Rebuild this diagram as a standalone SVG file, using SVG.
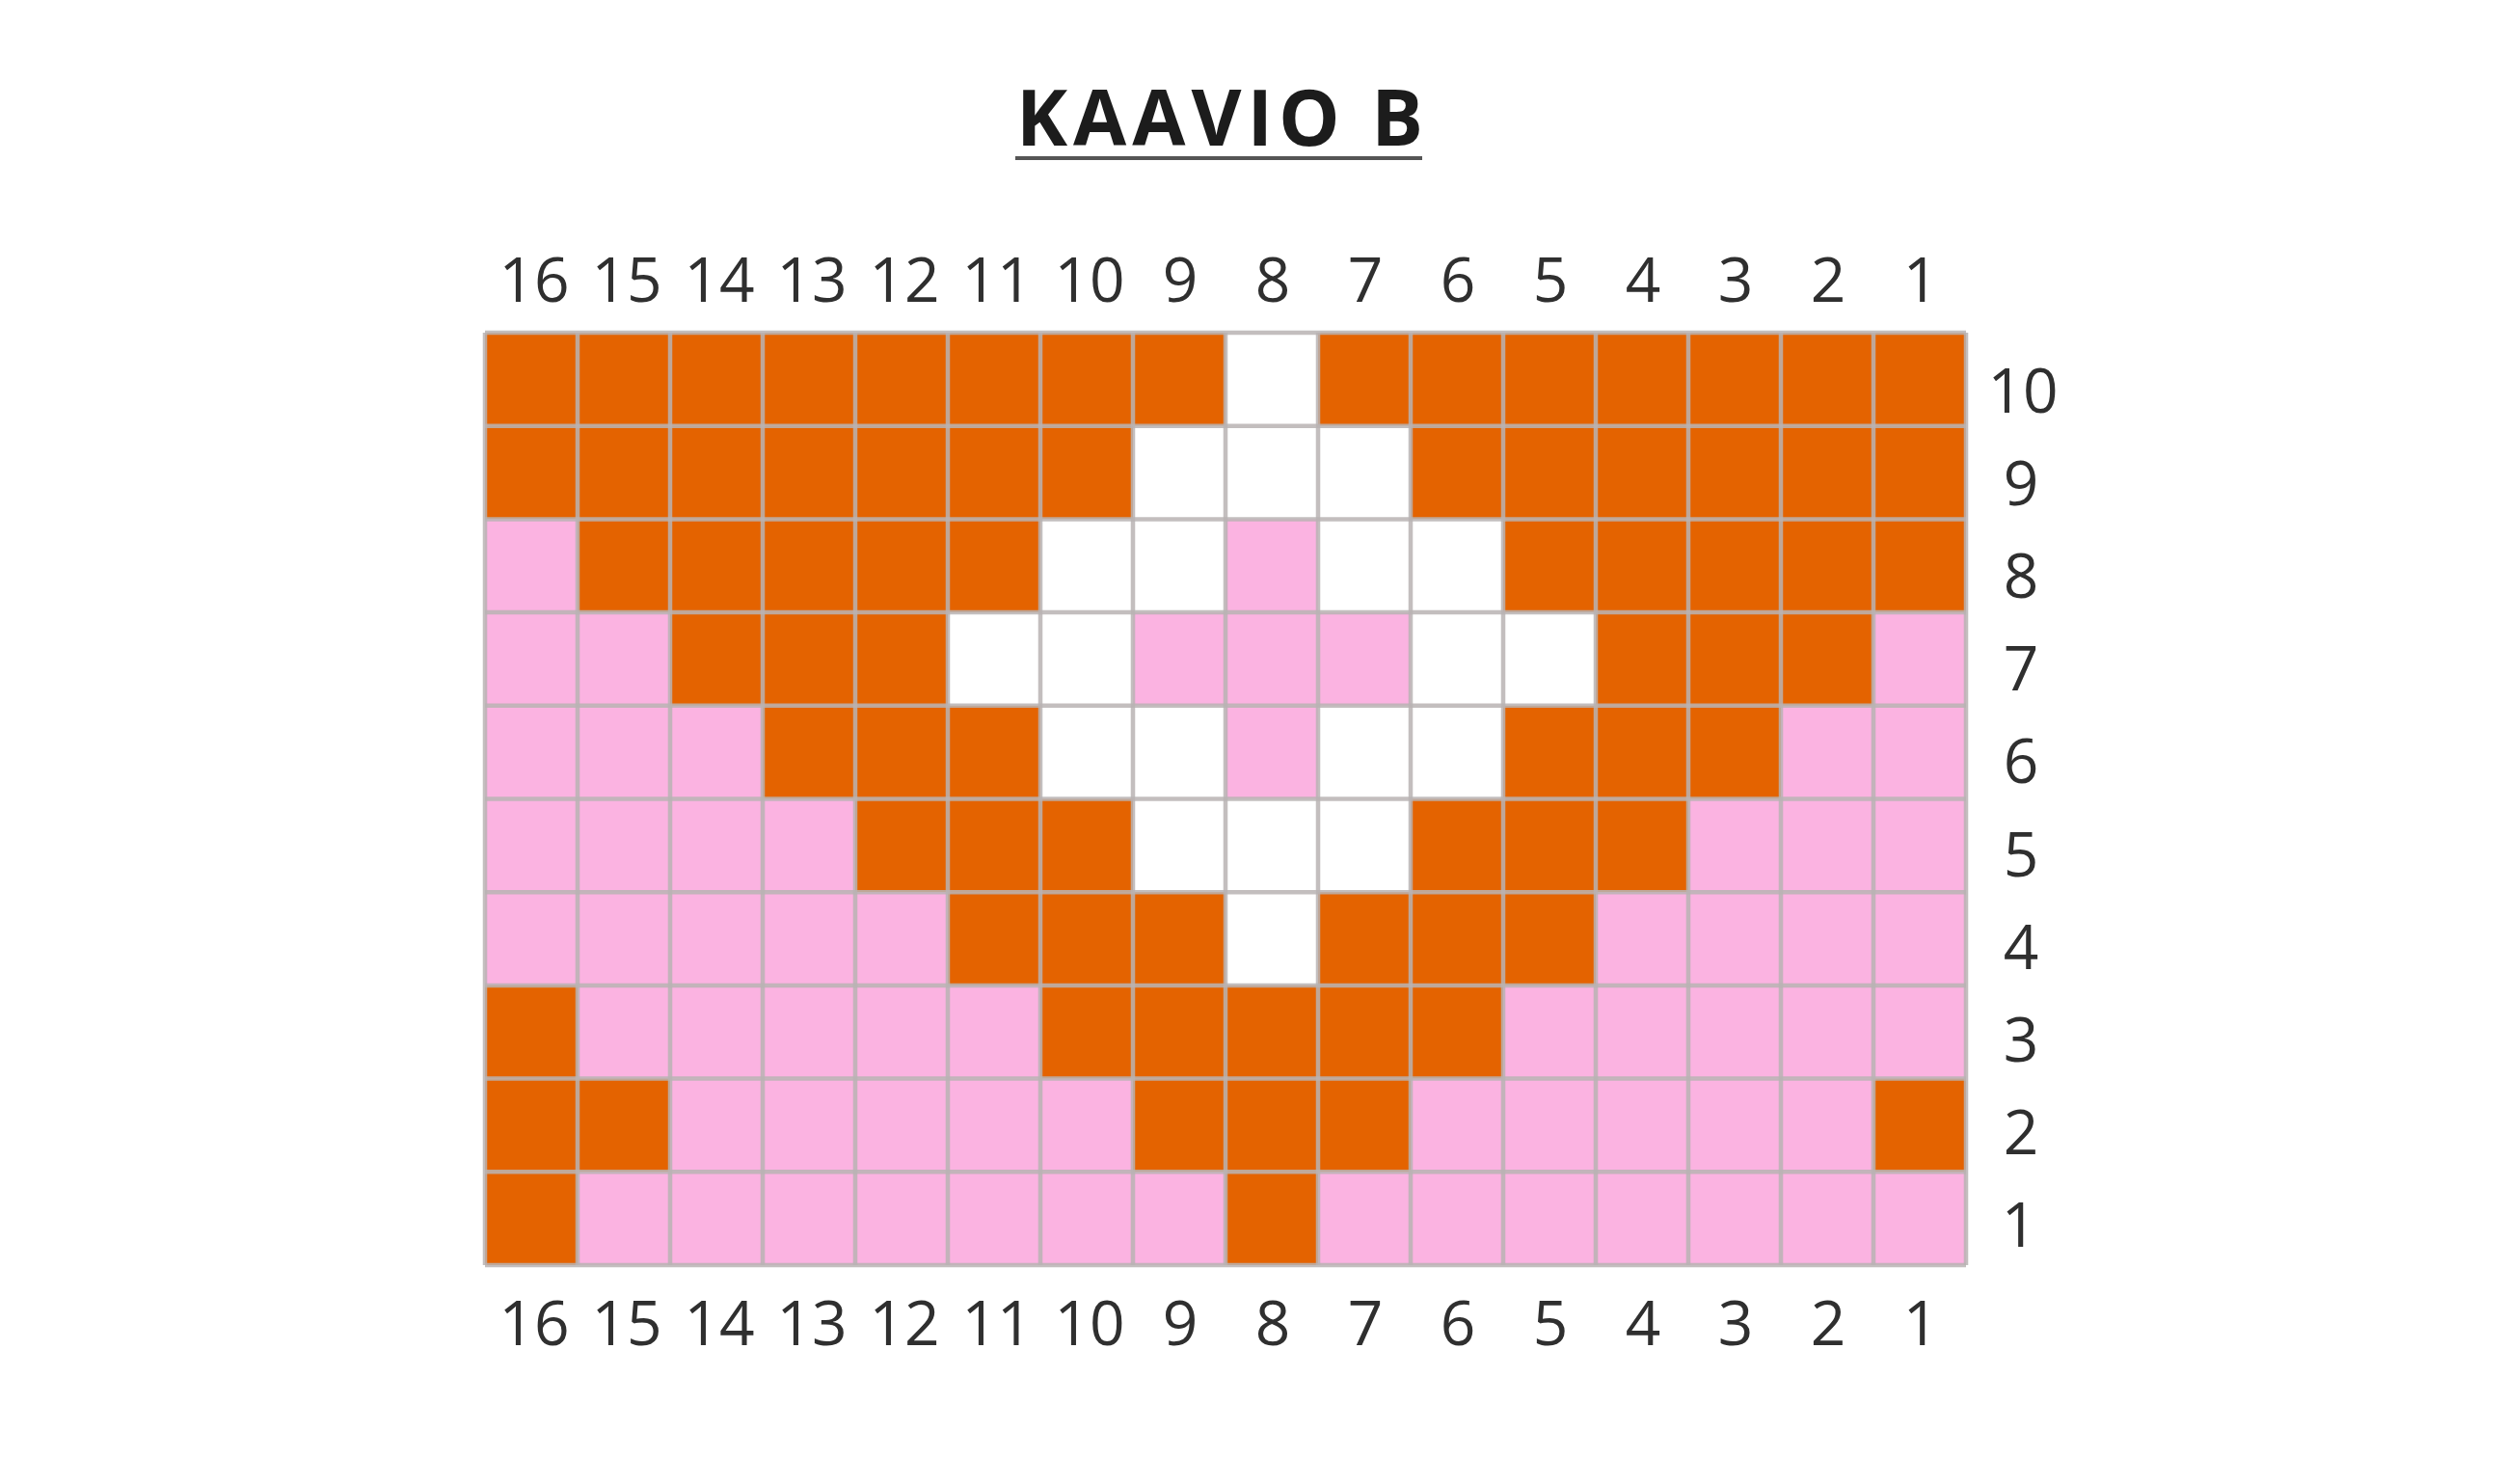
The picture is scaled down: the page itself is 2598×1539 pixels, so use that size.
<svg xmlns="http://www.w3.org/2000/svg" width="2598" height="1539" viewBox="0 0 2598 1539">
<style>
.o{fill:#E46300}
.p{fill:#FBB3E1}
.w{fill:#FFFFFF}
.gl{stroke:#B9B3B3;stroke-width:4.5;stroke-opacity:0.85}
.lbl{font-family:"Open Sans","Liberation Sans",sans-serif;font-size:64px;fill:#2f2f2f;text-anchor:middle}
.title{font-family:"Open Sans","Liberation Sans",sans-serif;font-weight:700;font-size:80px;fill:#1c1c1c;letter-spacing:6px;text-anchor:middle}
</style>
<rect width="2598" height="1539" fill="#FFFFFF"/>
<g id="title">
<text class="title" x="1268" y="151">KAAVIO B</text>
<rect x="1053" y="162" width="422" height="4" fill="#555555"/>
</g>
<g id="cells">
<!-- row 10 -->
<rect class="o" x="503" y="345" width="768" height="96.7"/>
<rect class="w" x="1271" y="345" width="96" height="96.7"/>
<rect class="o" x="1367" y="345" width="672" height="96.7"/>
<!-- row 9 -->
<rect class="o" x="503" y="441.7" width="672" height="96.7"/>
<rect class="w" x="1175" y="441.7" width="288" height="96.7"/>
<rect class="o" x="1463" y="441.7" width="576" height="96.7"/>
<!-- row 8 -->
<rect class="p" x="503" y="538.4" width="96" height="96.7"/>
<rect class="o" x="599" y="538.4" width="480" height="96.7"/>
<rect class="w" x="1079" y="538.4" width="192" height="96.7"/>
<rect class="p" x="1271" y="538.4" width="96" height="96.7"/>
<rect class="w" x="1367" y="538.4" width="192" height="96.7"/>
<rect class="o" x="1559" y="538.4" width="480" height="96.7"/>
<!-- row 7 -->
<rect class="p" x="503" y="635.1" width="192" height="96.7"/>
<rect class="o" x="695" y="635.1" width="288" height="96.7"/>
<rect class="w" x="983" y="635.1" width="192" height="96.7"/>
<rect class="p" x="1175" y="635.1" width="288" height="96.7"/>
<rect class="w" x="1463" y="635.1" width="192" height="96.7"/>
<rect class="o" x="1655" y="635.1" width="288" height="96.7"/>
<rect class="p" x="1943" y="635.1" width="96" height="96.7"/>
<!-- row 6 -->
<rect class="p" x="503" y="731.8" width="288" height="96.7"/>
<rect class="o" x="791" y="731.8" width="288" height="96.7"/>
<rect class="w" x="1079" y="731.8" width="192" height="96.7"/>
<rect class="p" x="1271" y="731.8" width="96" height="96.7"/>
<rect class="w" x="1367" y="731.8" width="192" height="96.7"/>
<rect class="o" x="1559" y="731.8" width="288" height="96.7"/>
<rect class="p" x="1847" y="731.8" width="192" height="96.7"/>
<!-- row 5 -->
<rect class="p" x="503" y="828.5" width="384" height="96.7"/>
<rect class="o" x="887" y="828.5" width="288" height="96.7"/>
<rect class="w" x="1175" y="828.5" width="288" height="96.7"/>
<rect class="o" x="1463" y="828.5" width="288" height="96.7"/>
<rect class="p" x="1751" y="828.5" width="288" height="96.7"/>
<!-- row 4 -->
<rect class="p" x="503" y="925.2" width="480" height="96.7"/>
<rect class="o" x="983" y="925.2" width="288" height="96.7"/>
<rect class="w" x="1271" y="925.2" width="96" height="96.7"/>
<rect class="o" x="1367" y="925.2" width="288" height="96.7"/>
<rect class="p" x="1655" y="925.2" width="384" height="96.7"/>
<!-- row 3 -->
<rect class="o" x="503" y="1021.9" width="96" height="96.7"/>
<rect class="p" x="599" y="1021.9" width="480" height="96.7"/>
<rect class="o" x="1079" y="1021.9" width="480" height="96.7"/>
<rect class="p" x="1559" y="1021.9" width="480" height="96.7"/>
<!-- row 2 -->
<rect class="o" x="503" y="1118.6" width="192" height="96.7"/>
<rect class="p" x="695" y="1118.6" width="480" height="96.7"/>
<rect class="o" x="1175" y="1118.6" width="288" height="96.7"/>
<rect class="p" x="1463" y="1118.6" width="480" height="96.7"/>
<rect class="o" x="1943" y="1118.6" width="96" height="96.7"/>
<!-- row 1 -->
<rect class="o" x="503" y="1215.3" width="96" height="96.7"/>
<rect class="p" x="599" y="1215.3" width="672" height="96.7"/>
<rect class="o" x="1271" y="1215.3" width="96" height="96.7"/>
<rect class="p" x="1367" y="1215.3" width="672" height="96.7"/>
</g>
<g id="gridlines">
<line class="gl" x1="503" y1="345" x2="503" y2="1312"/>
<line class="gl" x1="599" y1="345" x2="599" y2="1312"/>
<line class="gl" x1="695" y1="345" x2="695" y2="1312"/>
<line class="gl" x1="791" y1="345" x2="791" y2="1312"/>
<line class="gl" x1="887" y1="345" x2="887" y2="1312"/>
<line class="gl" x1="983" y1="345" x2="983" y2="1312"/>
<line class="gl" x1="1079" y1="345" x2="1079" y2="1312"/>
<line class="gl" x1="1175" y1="345" x2="1175" y2="1312"/>
<line class="gl" x1="1271" y1="345" x2="1271" y2="1312"/>
<line class="gl" x1="1367" y1="345" x2="1367" y2="1312"/>
<line class="gl" x1="1463" y1="345" x2="1463" y2="1312"/>
<line class="gl" x1="1559" y1="345" x2="1559" y2="1312"/>
<line class="gl" x1="1655" y1="345" x2="1655" y2="1312"/>
<line class="gl" x1="1751" y1="345" x2="1751" y2="1312"/>
<line class="gl" x1="1847" y1="345" x2="1847" y2="1312"/>
<line class="gl" x1="1943" y1="345" x2="1943" y2="1312"/>
<line class="gl" x1="2039" y1="345" x2="2039" y2="1312"/>
<line class="gl" x1="503" y1="345" x2="2039" y2="345"/>
<line class="gl" x1="503" y1="441.7" x2="2039" y2="441.7"/>
<line class="gl" x1="503" y1="538.4" x2="2039" y2="538.4"/>
<line class="gl" x1="503" y1="635.1" x2="2039" y2="635.1"/>
<line class="gl" x1="503" y1="731.8" x2="2039" y2="731.8"/>
<line class="gl" x1="503" y1="828.5" x2="2039" y2="828.5"/>
<line class="gl" x1="503" y1="925.2" x2="2039" y2="925.2"/>
<line class="gl" x1="503" y1="1021.9" x2="2039" y2="1021.9"/>
<line class="gl" x1="503" y1="1118.6" x2="2039" y2="1118.6"/>
<line class="gl" x1="503" y1="1215.3" x2="2039" y2="1215.3"/>
<line class="gl" x1="503" y1="1312" x2="2039" y2="1312"/>
</g>
<g id="top-labels">
<text class="lbl" x="554" y="313">16</text>
<text class="lbl" x="650" y="313">15</text>
<text class="lbl" x="746" y="313">14</text>
<text class="lbl" x="842" y="313">13</text>
<text class="lbl" x="938" y="313">12</text>
<text class="lbl" x="1034" y="313">11</text>
<text class="lbl" x="1130" y="313">10</text>
<text class="lbl" x="1224" y="313">9</text>
<text class="lbl" x="1320" y="313">8</text>
<text class="lbl" x="1416" y="313">7</text>
<text class="lbl" x="1512" y="313">6</text>
<text class="lbl" x="1608" y="313">5</text>
<text class="lbl" x="1704" y="313">4</text>
<text class="lbl" x="1800" y="313">3</text>
<text class="lbl" x="1896" y="313">2</text>
<text class="lbl" x="1992" y="313">1</text>
</g>
<g id="bottom-labels">
<text class="lbl" x="554" y="1395">16</text>
<text class="lbl" x="650" y="1395">15</text>
<text class="lbl" x="746" y="1395">14</text>
<text class="lbl" x="842" y="1395">13</text>
<text class="lbl" x="938" y="1395">12</text>
<text class="lbl" x="1034" y="1395">11</text>
<text class="lbl" x="1130" y="1395">10</text>
<text class="lbl" x="1224" y="1395">9</text>
<text class="lbl" x="1320" y="1395">8</text>
<text class="lbl" x="1416" y="1395">7</text>
<text class="lbl" x="1512" y="1395">6</text>
<text class="lbl" x="1608" y="1395">5</text>
<text class="lbl" x="1704" y="1395">4</text>
<text class="lbl" x="1800" y="1395">3</text>
<text class="lbl" x="1896" y="1395">2</text>
<text class="lbl" x="1992" y="1395">1</text>
</g>
<g id="row-labels">
<text class="lbl" x="2098" y="428">10</text>
<text class="lbl" x="2096" y="524">9</text>
<text class="lbl" x="2096" y="620">8</text>
<text class="lbl" x="2096" y="716">7</text>
<text class="lbl" x="2096" y="812">6</text>
<text class="lbl" x="2096" y="909">5</text>
<text class="lbl" x="2096" y="1005">4</text>
<text class="lbl" x="2096" y="1101">3</text>
<text class="lbl" x="2096" y="1197">2</text>
<text class="lbl" x="2094" y="1293">1</text>
</g>
</svg>
